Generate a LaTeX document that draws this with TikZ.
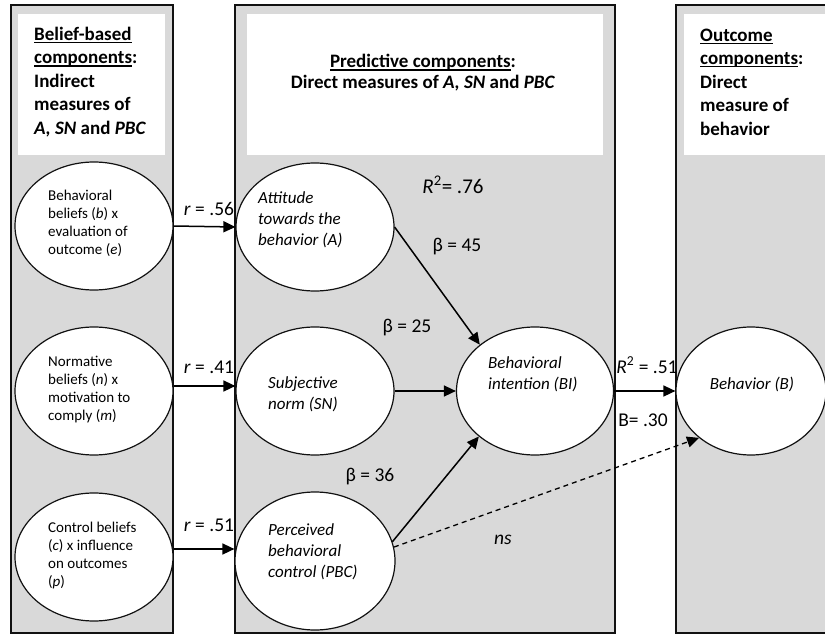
\documentclass[tikz,border=0pt]{standalone}
\usepackage{fontspec}
\setmainfont{Carlito}
\usepackage{xcolor}
\usetikzlibrary{arrows.meta,calc,positioning,shapes.geometric}
\definecolor{panel}{HTML}{D9D9D9}
\definecolor{ink}{HTML}{111111}
\newsavebox\hulbox
\newcommand{\hul}[1]{\sbox\hulbox{#1}\rlap{\rule[-2.8pt]{\wd\hulbox}{1.3pt}}\usebox\hulbox}
\tikzset{
  >={Triangle[length=12pt,width=11pt]},
  every node/.style={font=\fontsize{18}{22}\selectfont,inner sep=0pt},
  col/.style={draw=ink,line width=1.3pt,fill=panel},
  ell/.style={ellipse,draw=ink,line width=1.2pt,fill=white,minimum width=158pt,minimum height=128pt},
  btxt/.style={align=left,anchor=west,font=\fontsize{15}{18}\selectfont},
  itxt/.style={align=left,anchor=west,font=\fontsize{17}{21}\selectfont\itshape},
  htxt/.style={align=left,anchor=west,font=\fontsize{19}{23.5}\selectfont\bfseries},
  lbl/.style={font=\fontsize{19.5}{22}\selectfont},
  arr/.style={->,line width=1.5pt},
}

\begin{document}
\begin{tikzpicture}[x=1pt,y=-1pt]
  \useasboundingbox (0,0) rectangle (825,634);
  % columns
  \draw[col] (11,5) rectangle (173,633);
  \draw[col] (235,5) rectangle (615,633);
  \draw[col] (676,5) rectangle (845,633);
  \fill[white] (18,14) rectangle (165,155);
  \fill[white] (247,14) rectangle (603,155);
  \fill[white] (684,14) rectangle (845,155);
  \node[htxt] (hbel) at (34,82) {\hul{Belief-based}\\\hul{components}:\\Indirect\\measures of\\\textit{A, SN} and \textit{PBC}};
  \node[htxt,align=center,anchor=center,font=\fontsize{19}{21}\selectfont\bfseries] (hpre) at (423,73) {\hul{Predictive components}:\\Direct measures of \textit{A, SN} and \textit{PBC}};
  \node[htxt] (hout) at (700,82) {\hul{Outcome}\\\hul{components}:\\Direct\\measure of\\behavior};
  % ellipses
  \node[ell] (bel) at (94,226) {};
  \node[ell] (nor) at (94,391) {};
  \node[ell] (con) at (94,557) {};
  \node[ell] (att) at (315,227) {};
  \node[ell] (sn) at (315,391) {};
  \node[ell,minimum width=160pt,minimum height=138pt] (pbc) at (315,561) {};
  \node[ell,minimum width=157pt] (bi) at (535,391) {};
  \node[ell,minimum width=150pt] (beh) at (751,391) {};
  \node[btxt] (belt) at (48,223) {Behavioral\\beliefs (\textit{b}) x\\evaluation of\\outcome (\textit{e})};
  \node[btxt] (nort) at (48,390) {Normative\\beliefs (\textit{n}) x\\motivation to\\comply (\textit{m})};
  \node[btxt] (cont) at (48,555) {Control beliefs\\(\textit{c}) x influence\\on outcomes\\(\textit{p})};
  \node[itxt] (attt) at (258,220) {Attitude\\towards the\\behavior (A)};
  \node[itxt] (snt) at (268,394) {Subjective\\norm (SN)};
  \node[itxt] (pbct) at (268,552) {Perceived\\behavioral\\control (PBC)};
  \node[itxt] (bit) at (488,374) {Behavioral\\intention (BI)};
  \node[itxt,anchor=center] (beht) at (752,384) {Behavior (B)};
  % paths
  \draw[arr] (bel.east) -- (att.west);
  \draw[arr] ([yshift=5pt]nor.east) -- ([yshift=5pt]sn.west);
  \draw[arr] ([yshift=8pt]con.east) -- ([yshift=12pt]pbc.west);
  \draw[arr] (att.east) -- (bi.140);
  \draw[arr] (sn.east) -- (bi.west);
  \draw[arr] (pbc.14) -- (bi.219);
  \draw[arr] (bi.east) -- (beh.west);
  \draw[arr,dashed,line width=1.3pt,dash pattern=on 5pt off 4pt] (pbc.10) -- (beh.222);
  % coefficients
  \node[lbl] (r1) at (209,209) {\textit{r} = .56};
  \node[lbl] (r2) at (209,367) {\textit{r} = .41};
  \node[lbl] (r3) at (209,525) {\textit{r} = .51};
  \node[lbl,font=\fontsize{21}{22}\selectfont] (rsq1) at (453,185) {\textit{R}\textsuperscript{2}= .76};
  \node[lbl] (b1) at (457,247) {β = 45};
  \node[lbl] (b2) at (407,328) {β = 25};
  \node[lbl] (b3) at (370,477) {β = 36};
  \node[lbl] (ns) at (503,540) {\textit{ns}};
  \node[lbl] (rsq2) at (647,365) {\textit{R}\textsuperscript{2} = .51};
  \node[lbl] (bb) at (643,420) {B= .30};
\end{tikzpicture}
\end{document}
